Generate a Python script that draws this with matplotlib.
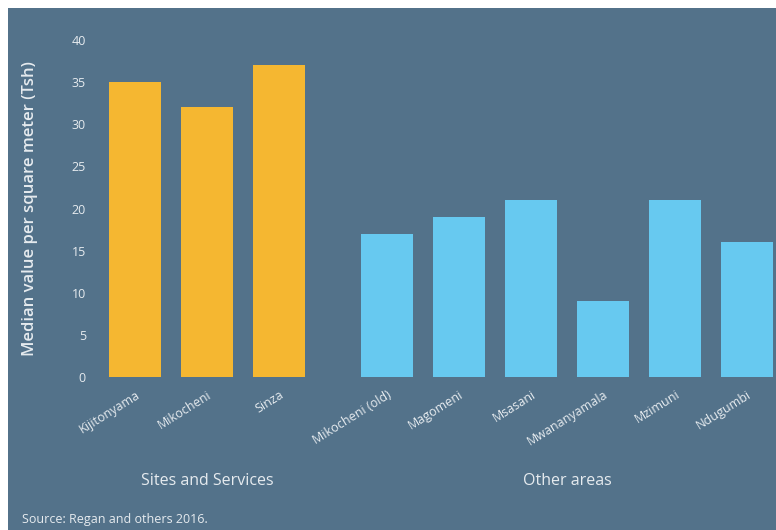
import numpy as np
import matplotlib.pyplot as plt
from matplotlib.patches import Rectangle
from matplotlib.transforms import blended_transform_factory

plt.rcParams['font.family'] = ['Open Sans', 'DejaVu Sans']

sites = ['Kijitonyama', 'Mikocheni', 'Sinza']
sites_vals = [35, 32, 37]
other = ['Mikocheni (old)', 'Magomeni', 'Msasani', 'Mwananyamala', 'Mzimuni', 'Ndugumbi']
other_vals = [17, 19, 21, 9, 21, 16]
yticks = [0, 5, 10, 15, 20, 25, 30, 35, 40]

bg = '#53728a'
txt = '#e6ebef'
orange = '#f5b731'
blue = '#67c9f0'

fig = plt.figure(figsize=(7.76, 5.30), dpi=100, facecolor='white')
# dark panel, leaving a thin white strip at top and left
fig.patches.append(Rectangle((8 / 776, 0), 1, 522 / 530, transform=fig.transFigure,
                             facecolor=bg, edgecolor='none', zorder=-10))
ax = fig.add_axes([95 / 776, 153 / 530, 681 / 776, 337 / 530])
ax.set_facecolor(bg)

x_sites = np.arange(len(sites))
x_other = np.arange(len(other)) + len(sites) + 0.5
ax.bar(x_sites, sites_vals, width=0.72, color=orange)
ax.bar(x_other, other_vals, width=0.72, color=blue)

ax.set_xlim(-0.556, 8.903)
ax.set_ylim(0, 40)
ax.set_yticks(yticks)
ax.set_xticks(np.concatenate([x_sites, x_other]))
ax.set_xticklabels(sites + other, rotation=32, ha='right', rotation_mode='anchor',
                   fontsize=8.5, color=txt)
ax.tick_params(axis='both', length=0, colors=txt, labelsize=9)
ax.tick_params(axis='x', pad=8)
ax.tick_params(axis='y', pad=6.5)
for s in ax.spines.values():
    s.set_visible(False)

ax.set_ylabel('Median value per square meter (Tsh)', fontsize=12, fontweight='semibold',
              color=txt)
ax.yaxis.set_label_coords(-0.084, 0.5)

tr = blended_transform_factory(ax.transData, fig.transFigure)
ax.text(x_sites.mean(), 49 / 530, 'Sites and Services', transform=tr, ha='center', va='center',
        fontsize=11.5, color=txt)
ax.text(x_other.mean(), 49 / 530, 'Other areas', transform=tr, ha='center', va='center',
        fontsize=11.5, color=txt)
fig.text(22 / 776, 10 / 530, 'Source: Regan and others 2016.', ha='left', va='center',
         fontsize=9, color=txt)

fig.savefig('out.png', dpi=100, facecolor=fig.get_facecolor())
